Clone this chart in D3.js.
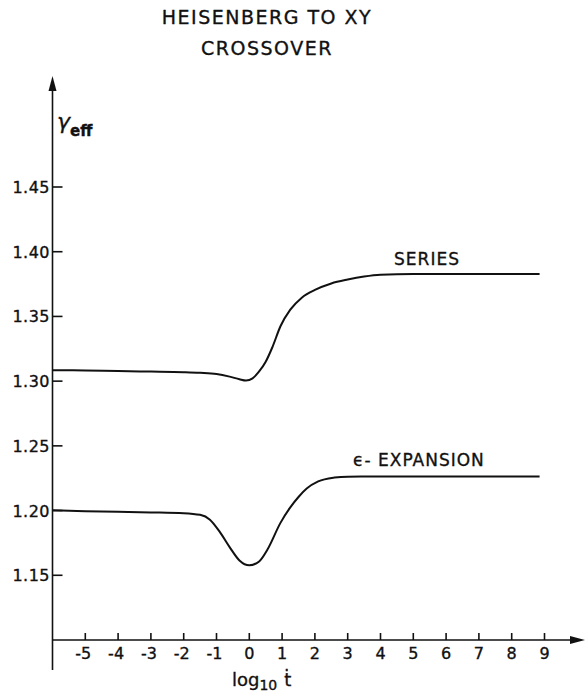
<!DOCTYPE html>
<html><head><meta charset="utf-8">
<script src="https://cdn.jsdelivr.net/npm/d3@7"></script>
<style>
body{margin:0;background:#fff;}
text{font-family:"DejaVu Sans",sans-serif;fill:#111;stroke:#111;stroke-width:0.35px;}
</style></head>
<body>
<svg id="c" width="585" height="696"></svg>
<script>
const titleLines = ["HEISENBERG TO XY", "CROSSOVER"];
const xTicks = [-5,-4,-3,-2,-1,0,1,2,3,4,5,6,7,8,9];
const yTicks = [1.15,1.20,1.25,1.30,1.35,1.40,1.45];
const yTickLabels = ["1.15","1.20","1.25","1.30","1.35","1.40","1.45"];
const seriesX = [-6,-5,-4,-3,-2,-1.5,-1,-0.6,-0.3,-0.1,0.1,0.3,0.5,0.7,0.95,1.25,1.6,2.0,2.5,3.0,3.5,4,5,6,7,8,8.85];
const seriesY = [1.3085,1.3082,1.3078,1.3074,1.3069,1.3064,1.3055,1.3035,1.3015,1.3005,1.3022,1.3075,1.315,1.326,1.3424,1.3552,1.3645,1.3705,1.3755,1.3785,1.3808,1.3822,1.3828,1.3828,1.3828,1.3828,1.3828];
const epsX = [-6,-5,-4,-3,-2,-1.5,-1.2,-0.9,-0.6,-0.3,0,0.3,0.55,0.95,1.25,1.5,1.75,2.1,2.6,3,4,5,6,7,8,8.85];
const epsY = [1.2002,1.1995,1.199,1.1986,1.198,1.1967,1.193,1.1835,1.1718,1.1615,1.1577,1.1607,1.1697,1.1905,1.2025,1.2105,1.217,1.2225,1.2255,1.2262,1.2263,1.2263,1.2263,1.2263,1.2263,1.2263];
const seriesLabel = "SERIES";
const epsLabel = "\u03F5- EXPANSION";

const svg = d3.select("#c");
const x = d3.scaleLinear().domain([-6,10]).range([52.5,577.3]);
const y = d3.scaleLinear().domain([1.10,1.45]).range([640,187]);

// title
svg.selectAll("text.title").data(titleLines).join("text")
  .attr("class","title").attr("x",267).attr("y",(d,i)=>24+i*31)
  .attr("text-anchor","middle").style("font-size","19px").style("letter-spacing","1.5px")
  .text(d=>d);

// axes lines
const ax = svg.append("g").attr("stroke","#111").attr("stroke-width",1.6).attr("fill","none");
ax.append("line").attr("x1",x(-6)).attr("x2",x(-6)).attr("y1",670).attr("y2",86);
ax.append("line").attr("x1",x(-6)).attr("x2",578).attr("y1",y(1.10)).attr("y2",y(1.10));
svg.append("path").attr("d",`M${x(-6)},76 L${x(-6)-4},91 L${x(-6)+4},91 Z`).attr("fill","#111");
svg.append("path").attr("d",`M585,${y(1.10)} L570,${y(1.10)-4} L570,${y(1.10)+4} Z`).attr("fill","#111");

// y ticks
ax.selectAll("line.yt").data(yTicks).join("line").attr("class","yt")
  .attr("x1",x(-6)).attr("x2",x(-6)+10).attr("y1",d=>y(d)).attr("y2",d=>y(d));
svg.selectAll("text.yl").data(yTicks).join("text").attr("class","yl")
  .attr("x",50).attr("y",d=>y(d)+6).attr("text-anchor","end")
  .style("font-size","16px").style("letter-spacing","0.5px")
  .text((d,i)=>yTickLabels[i]);

// x ticks
ax.selectAll("line.xt").data(xTicks).join("line").attr("class","xt")
  .attr("x1",d=>x(d)).attr("x2",d=>x(d)).attr("y1",y(1.10)).attr("y2",y(1.10)-7);
svg.selectAll("text.xl").data(xTicks).join("text").attr("class","xl")
  .attr("x",d=>x(d)-(d<0?2:0)).attr("y",659).attr("text-anchor","middle")
  .style("font-size","16px")
  .text(d=>d<0?"-"+Math.abs(d):String(d));

// axis titles
const xl = svg.append("text").attr("x",232).attr("y",686).style("font-size","18px");
xl.append("tspan").text("log");
xl.append("tspan").attr("dy",4).style("font-size","14px").text("10");
xl.append("tspan").attr("dy",-4).attr("dx",7).text("\u1E6B");

const yl = svg.append("text").attr("x",57).attr("y",129).style("font-size","22px");
yl.append("tspan").style("font-style","italic").text("\u03B3");
yl.append("tspan").attr("dy",7).style("font-size","15px").style("font-weight","bold").text("eff");

// curves
const line = d3.line().x(d=>x(d[0])).y(d=>y(d[1])).curve(d3.curveMonotoneX);
svg.append("path").datum(d3.zip(seriesX,seriesY)).attr("d",line)
  .attr("fill","none").attr("stroke","#111").attr("stroke-width",2);
svg.append("path").datum(d3.zip(epsX,epsY)).attr("d",line)
  .attr("fill","none").attr("stroke","#111").attr("stroke-width",2);

svg.append("text").attr("x",427).attr("y",265).attr("text-anchor","middle")
  .style("font-size","17px").style("letter-spacing","1px").text(seriesLabel);
svg.append("text").attr("x",353).attr("y",466)
  .style("font-size","17px").style("letter-spacing","1px").text(epsLabel);
</script>
</body></html>
